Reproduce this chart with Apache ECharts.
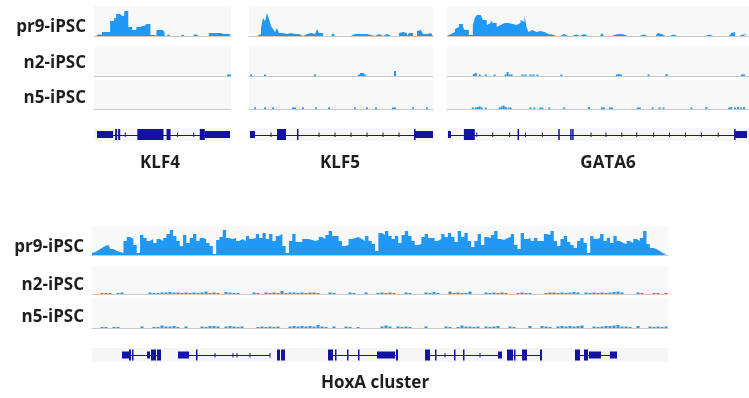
<!DOCTYPE html>
<html><head><meta charset="utf-8">
<script src="https://cdn.jsdelivr.net/npm/echarts@6/dist/echarts.min.js"></script>
<style>html,body{margin:0;padding:0;background:#fff}#c{width:749px;height:398px}</style>
</head><body><div id="c"></div>
<script>
// ---------- DATA ----------
const sampleNames = ['pr9-iPSC', 'n2-iPSC', 'n5-iPSC'];
const geneNames = ['KLF4', 'KLF5', 'GATA6', 'HoxA cluster'];

// coverage, 2-unit bins
const KLF4_pr9 = [0,1.5,1.5,1.5,4,4,4,4,15,15,18,22,22,20,20,25,25,9,9,6,6,9,9,10,10,12,12,12,1,1,0,6,6,6,4,0,1.5,0,0,0,0,0,0,1.5,0,0,0,0,0,1.5,1.5,0,0,0,0,0,0,3,3,3,3,3,3,2,2,2,2,1.5];
const KLF5_pr9 = [0,0,0,0,2,2,8,18,15,23,17,10,7,4,8,3,3,2,2,2,3,2,2,2,2,0,0,2,2,3,3,2,2,2,7,3,3,0,0,0,0,0,3,0,0,0,0,0,0,0,0,0,2,0,2,2,2,1,2,2,1,2,0,2,2,0,0,2,2,0,0,2,0,0,0,3,4,4,3,0,3,3,0,0,5,6,6,2,2,3,3,3];
const GATA6_pr9 = [0,2,2,4,7,9,12,12,9,6,6,1,1,11,18,21,21,19,16,16,11,13,16,13,13,9,11,9,13,13,13,13,12,14,11,13,13,16,14,21,9,4,6,4,4,5,5,4,4,3,2,2,1.5,1.5,0,0,0,2,2,2,0,0,0,1.5,1.5,0,0,0,2,3,0,0,0,0,0,0,0,0,3,0,0,0,0,0,1.5,1.5,2,1.5,1.5,1.5,0,0,0,0,0,0,0,1.5,1.5,0,0,0,0,0,0,0,3,2,0,0,0,0,0,1.5,0,0,0,0,0,0,0,0,0,0,0,0,0,0,0,0,0,1.5,0,0,0,0,0,0,0,0,0,0,2,3,4,0,0,0,1.5,1.5,1.5,1.5];
// sparse small signals: [position, value]
const KLF4_n2 = [[133,1.5],[135,1.5]];
const KLF4_n5 = [];
const KLF5_n2 = [[2,1.5],[16,1.5],[66,1.5],[110,1.5],[112,3],[114,3],[116,1.5],[146,5]];
const KLF5_n5 = [[6,1.5],[16,1.5],[24,1.5],[44,1.5],[46,1.5],[54,1.5],[67,1.5],[80,1.5],[106,1.5],[118,1.5],[127,1.5],[144,1.5],[146,1.5],[164,1.5],[178,1.5]];
const GATA6_n2 = [[27,2],[29,3],[33,1.5],[39,1.5],[48,1.5],[59,1.5],[61,4],[63,1.5],[65,1.5],[76,1.5],[79,1.5],[84,1.5],[87,1.5],[91,1.5],[115,1.5],[171,1.5],[173,2],[175,1.5],[203,1.5],[221,2],[297,1.5],[299,1.5]];
const GATA6_n5 = [[26,1.5],[29,1.5],[31,2],[33,2.5],[35,1.5],[39,1.5],[53,1.5],[55,2.5],[57,3.5],[59,2],[62,1.5],[64,1.5],[84,1.5],[88,1.5],[94,1.5],[96,1.5],[103,1.5],[118,1.5],[143,2],[156,1.5],[158,1.5],[164,1.5],[166,1.5],[192,1.5],[194,1.5],[207,1.5],[214,1.5],[218,1.5],[246,1.5],[261,2],[284,1.5],[286,2],[290,1.5],[293,2],[296,1.5],[299,2]];

// HoxA cluster, span 576 units
const HOXA_pr9 = [2,
 3,5,7,9,10,6,4,3,2,14,18,16,10,2,20,17,14,16,12,16,14,17,21,25,19,14,9,20,12,17,21,14,17,16,12,9,1,15,18,25,17,16,17,14,16,14,19,16,17,21,17,22,16,21,14,19,21,9,2,
 14,21,13,13,16,16,15,14,15,18,16,20,24,19,19,14,9,10,16,17,18,16,14,19,14,11,4,22,20,24,19,16,19,12,20,24,19,14,10,11,18,21,17,17,14,16,21,18,22,18,13,24,18,22,14,8,14,21,10,
 18,17,20,24,16,15,17,18,21,10,6,22,16,17,14,17,14,14,21,20,24,14,9,16,19,13,10,7,14,17,12,2,19,16,17,21,14,17,12,19,14,12,11,14,12,16,14,17,24,11,7,6,4,2,1,0.5];
// 4-unit bins
const HOXA_n2 = [0,0,1,1,1,0,1,1.5,0,0,0,0,0,0,1.5,1,1,1.5,1.5,2,1.5,1.5,1,1.5,1,1.5,1,1.5,2.5,1,1.5,1,0,2,1.5,1,1,0,0,0,1.5,1,0,1.5,1,1.5,1,3,1,1.5,1.5,1,1.5,1,1.5,1.5,1,0,0,1.5,1,0,0,0,1.5,1,0,0,1.5,0,0,1,1.5,1,1.5,1,0,0,1.5,1,0,0,0,1.5,1,2,1,0,0,2.5,1,1.5,1,1,2.5,0,0,0,1.5,1,1.5,1,1.5,1,0,0,1,1.5,1,1,0,0,0,1,1.5,1.5,1,1.5,1,1.5,2,1.5,0,1.5,1,1.5,1,1.5,1,1.5,2,2.5,1.5,0,0,0,1.5,1,0,0,1,1,0,1];
const HOXA_n5 = [0,0,1,1,0,1,1,0,0,0,0,0,1.5,0,0,1,1,2.5,1.5,1.5,2,1,0,1.5,0,0,0,1.5,1,2,2,1.5,0,1.5,2,1.5,1,1.5,0,0,0,1,1.5,1,1.5,1,1.5,0,0,1.5,2,1.5,2,1.5,2,1.5,3,1.5,1,0,1.5,0,0,1.5,1,0,1,0,0,0,0,0,1.5,2.5,1.5,0,1.5,1,1.5,1,0,0,0,1.5,0,0,0,0,1.5,1,0,1,2.5,1.5,1.5,1,1.5,0,1.5,1,1.5,2,0,0,1.5,1,0,0,0,2,0,0,2,1.5,1,0,1.5,2,1.5,2,1.5,2,2.5,0,0,1.5,1,1.5,2,2,2.5,3,1.5,1.5,1,0,2,0,0,1.5,1,1.5,1,1.5];

// gene models: exons [start, end, kind(1=UTR,2=CDS)], introns [start,end], strand ticks
const KLF4_exons = [[3,19,1],[21,23,2],[24,26,2],[43,69,2],[72,76,2],[105,110,2],[110,135,1]];
const KLF4_introns = [[3,135]];
const KLF4_ticks = [31,83,99];
const KLF5_exons = [[1,6,1],[28,37,2],[48,49,2],[165,166,2],[166,184,1]];
const KLF5_introns = [[1,184]];
const KLF5_ticks = [22,70,86,102,118,134,150];
const GATA6_exons = [[1,4,1],[17,28,2],[71,72,2],[112,113,2],[124,125,2],[126,127,2],[289,290,2],[290,302,1]];
const GATA6_introns = [[1,302]];
const GATA6_ticks = [30,46,63,79,96,145,160,176,191,208,224,240,256,273];
const HOXA_exons = [[30,37,1],[37,39,2],[40,41,2],[55,58,1],[59,64,2],[65,69,2],
  [86,97,1],[104,105,2],
  [185,188,2],[189,193,2],
  [236,241,2],[243,244,2],[255,256,2],[266,267,2],[285,303,1],[304,306,2],
  [333,338,2],[343,344,2],[362,363,2],[371,372,2],[406,410,1],
  [415,421,2],[422,423,2],[430,435,2],[448,450,2],
  [483,488,2],[492,496,2],[497,509,1],[518,525,1]];
const HOXA_introns = [[30,69],[86,178],[236,306],[333,410],[415,450],[483,525]];
const HOXA_ticks = [123,141,145,158,178,353,388];

// ---------- STYLE ----------
const SIGNAL = '#1f98f6', GENE = '#1212a3', TRACK_BG = '#f8f8f8', GENE_BG = '#f6f6f6', BASE = '#c9c9c9', TEXT = '#1e1e1e';
const FONT = 'bold 17px "Open Sans", "Liberation Sans", sans-serif';
const EXON_H = {1: 7, 2: 11};

const grids = [], xAxes = [], yAxes = [], series = [], graphics = [];

function addGrid(left, top, width, height, xmax, ymin, ymax, bg, baseline) {
  const i = grids.length;
  grids.push({left, top, width, height, show: true, backgroundColor: bg, borderWidth: 0});
  xAxes.push({type: 'value', gridIndex: i, min: 0, max: xmax, show: baseline,
    axisLine: {show: baseline, onZero: true, lineStyle: {color: BASE, width: 1}},
    axisTick: {show: false}, axisLabel: {show: false}, splitLine: {show: false}});
  yAxes.push({type: 'value', gridIndex: i, min: ymin, max: ymax, show: false, splitLine: {show: false}});
  return i;
}
function stepTrack(gi, arr, bin, stepMode) {
  const data = arr.map((v, i) => [i * bin, v]);
  data.push([arr.length * bin, arr[arr.length - 1]]);
  series.push({type: 'line', xAxisIndex: gi, yAxisIndex: gi, data, step: stepMode || 'end', symbol: 'none',
    lineStyle: {width: 0, color: SIGNAL}, areaStyle: {color: SIGNAL, opacity: 1}, silent: true, z: 3});
}
function spikeTrack(gi, arr, span) {
  const data = arr.map((v, i) => [i * span / (arr.length - 1), v]);
  series.push({type: 'line', xAxisIndex: gi, yAxisIndex: gi, data, step: 'middle', symbol: 'none',
    lineStyle: {width: 0, color: SIGNAL}, areaStyle: {color: SIGNAL, opacity: 1}, silent: true, z: 3});
}
function blipTrack(gi, pairs, w) {
  series.push({type: 'bar', xAxisIndex: gi, yAxisIndex: gi, data: pairs, barWidth: w,
    itemStyle: {color: SIGNAL}, silent: true, z: 3});
}
function geneTrack(gi, exons, introns, ticks) {
  series.push({type: 'custom', xAxisIndex: gi, yAxisIndex: gi, data: introns, silent: true, z: 3,
    renderItem: (p, api) => {
      const a = api.coord([api.value(0), 0]), b = api.coord([api.value(1), 0]);
      const y = Math.round(a[1]) + 0.5;
      return {type: 'line', shape: {x1: a[0], y1: y, x2: b[0], y2: y}, style: {stroke: GENE, lineWidth: 1}};
    }});
  series.push({type: 'custom', xAxisIndex: gi, yAxisIndex: gi, data: ticks.map(t => [t]), silent: true, z: 4,
    renderItem: (p, api) => {
      const a = api.coord([api.value(0), 0]);
      return {type: 'line', shape: {x1: a[0], y1: a[1] - 2, x2: a[0], y2: a[1] + 2.5}, style: {stroke: GENE, lineWidth: 1}};
    }});
  series.push({type: 'custom', xAxisIndex: gi, yAxisIndex: gi, data: exons, silent: true, z: 5,
    renderItem: (p, api) => {
      const a = api.coord([api.value(0), 0]), b = api.coord([api.value(1), 0]);
      const h = EXON_H[api.value(2)];
      return {type: 'rect', shape: {x: a[0], y: a[1] - h / 2, width: Math.max(b[0] - a[0], 1.5), height: h}, style: {fill: GENE}};
    }});
}
function label(text, x, y, align) {
  graphics.push({type: 'text', x, y, silent: true,
    style: {text, font: FONT, fill: TEXT, textAlign: align, align, textVerticalAlign: 'middle', verticalAlign: 'middle'}});
}

// ---------- LAYOUT ----------
const topPanels = [
  {name: geneNames[0], left: 94, width: 137, pr9: KLF4_pr9, n2: KLF4_n2, n5: KLF4_n5, ex: KLF4_exons, intr: KLF4_introns, tk: KLF4_ticks, lx: 160},
  {name: geneNames[1], left: 249, width: 184, pr9: KLF5_pr9, n2: KLF5_n2, n5: KLF5_n5, ex: KLF5_exons, intr: KLF5_introns, tk: KLF5_ticks, lx: 340},
  {name: geneNames[2], left: 447, width: 302, pr9: GATA6_pr9, n2: GATA6_n2, n5: GATA6_n5, ex: GATA6_exons, intr: GATA6_introns, tk: GATA6_ticks, lx: 608}
];
const topRows = [{top: 6, h: 30}, {top: 47, h: 29}, {top: 80, h: 29}];
topPanels.forEach(P => {
  const span = P.pr9.length * 2;
  const g0 = addGrid(P.left, topRows[0].top, P.width, topRows[0].h, span, 0, topRows[0].h, TRACK_BG, true);
  stepTrack(g0, P.pr9, 2);
  const g1 = addGrid(P.left, topRows[1].top, P.width, topRows[1].h, span, 0, topRows[1].h, TRACK_BG, true);
  blipTrack(g1, P.n2, 2);
  const g2 = addGrid(P.left, topRows[2].top, P.width, topRows[2].h, span, 0, topRows[2].h, TRACK_BG, true);
  blipTrack(g2, P.n5, 2);
  const g3 = addGrid(P.left, 128, P.width, 13, span, -1, 1, GENE_BG, false);
  geneTrack(g3, P.ex, P.intr, P.tk);
  label(P.name, P.lx, 163, 'center');
});
label(sampleNames[0], 86, 27, 'right');
label(sampleNames[1], 86, 63, 'right');
label(sampleNames[2], 86, 98, 'right');

const HSPAN = HOXA_n2.length * 4;
const hRows = [{top: 226, h: 29}, {top: 266, h: 28}, {top: 298, h: 30}];
const h0 = addGrid(92, hRows[0].top, 576, hRows[0].h, HSPAN, 0, hRows[0].h, TRACK_BG, true);
spikeTrack(h0, HOXA_pr9, HSPAN);
const h1 = addGrid(92, hRows[1].top, 576, hRows[1].h, HSPAN, 0, hRows[1].h, TRACK_BG, true);
blipTrack(h1, HOXA_n2.map((v, i) => [i * 4 + 2, v]), 3);
const h2 = addGrid(92, hRows[2].top, 576, hRows[2].h, HSPAN, 0, hRows[2].h, TRACK_BG, true);
blipTrack(h2, HOXA_n5.map((v, i) => [i * 4 + 2, v]), 3);
const h3 = addGrid(92, 348, 576, 14, HSPAN, -1, 1, GENE_BG, false);
geneTrack(h3, HOXA_exons, HOXA_introns, HOXA_ticks);
label(sampleNames[0], 84, 247, 'right');
label(sampleNames[1], 84, 285, 'right');
label(sampleNames[2], 84, 317, 'right');
label(geneNames[3], 375, 383, 'center');

const chart = echarts.init(document.getElementById('c'), null, {renderer: 'canvas'});
chart.setOption({
  animation: false,
  backgroundColor: '#ffffff',
  grid: grids, xAxis: xAxes, yAxis: yAxes, series, graphic: {elements: graphics}
});
</script></body></html>
